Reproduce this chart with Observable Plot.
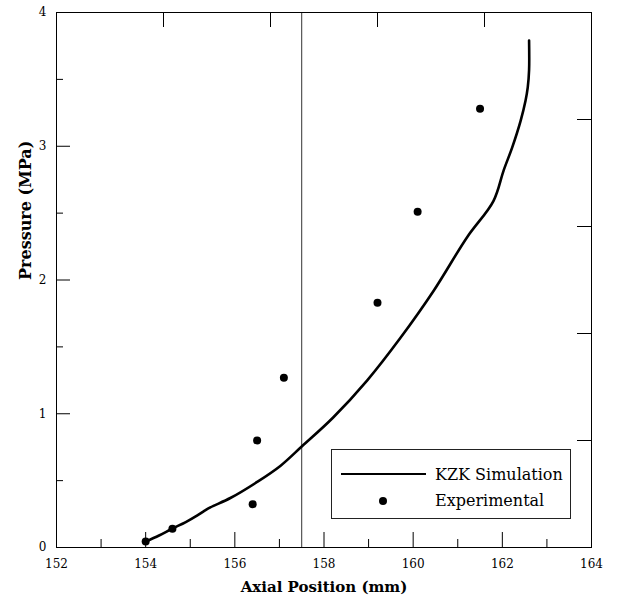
<!DOCTYPE html>
<html>
<head>
<meta charset="utf-8">
<script src="https://cdn.jsdelivr.net/npm/d3@7"></script>
<script src="https://cdn.jsdelivr.net/npm/@observablehq/plot@0.6"></script>
<style>
  html, body { margin: 0; padding: 0; background: #fff; }
  #wrap { position: relative; width: 619px; height: 596px; font-family: "DejaVu Serif", serif; }
  #legend { position: absolute; left: 331px; top: 449px; width: 240px; height: 70px; border: 1px solid #222; box-sizing: border-box; background: #fff; }
  #legend .ln { position: absolute; left: 9px; top: 22.5px; width: 85px; height: 2.6px; background: #000; }
  #legend .dt { position: absolute; left: 47px; top: 47px; width: 8px; height: 8px; border-radius: 50%; background: #000; }
  #legend .tx { position: absolute; left: 103px; font-size: 16px; line-height: 16px; color: #000; white-space: nowrap; font-family: "DejaVu Serif", serif; }
</style>
</head>
<body>
<div id="wrap"></div>
<script>
// ---- data ----
const simX = [154.0, 154.3, 154.59, 154.9, 155.16, 155.3, 155.45, 155.9, 156.5, 157.02, 157.5, 158.2, 158.97, 159.72, 160.46, 161.21, 161.8, 162.03, 162.22, 162.41, 162.52, 162.57, 162.6, 162.6];
const simY = [0.045, 0.09, 0.14, 0.19, 0.24, 0.27, 0.30, 0.37, 0.49, 0.61, 0.755, 0.97, 1.25, 1.57, 1.92, 2.32, 2.59, 2.82, 2.99, 3.19, 3.34, 3.44, 3.57, 3.79];
const expX = [154.0, 154.6, 156.4, 156.5, 157.1, 159.2, 160.1, 161.5];
const expY = [0.045, 0.14, 0.324, 0.80, 1.27, 1.83, 2.51, 3.28];
const focalLine = [157.5];
const xMajor = [152, 154, 156, 158, 160, 162, 164];
const xMinor = [153, 155, 157, 159, 161, 163];
const yMajor = [0, 1, 2, 3, 4];
const yMinor = [0.5, 1.5, 2.5, 3.5];
const topTicks = [154.4, 156.8, 159.2, 161.6];
const rightTicks = [0.8, 1.6, 2.4, 3.2];
const legendLabels = ["KZK Simulation", "Experimental"];

const sim = simX.map((x, i) => ({x, y: simY[i]}));
const exp = expX.map((x, i) => ({x, y: expY[i]}));

const W = 619, H = 596;
const mL = 56, mR = 28, mT = 12, mB = 49;
const fw = W - mL - mR, fh = H - mT - mB;
const serif = "DejaVu Serif";

const chart = Plot.plot({
  width: W, height: H,
  marginLeft: mL, marginRight: mR, marginTop: mT, marginBottom: mB,
  x: {domain: [152, 164]},
  y: {domain: [0, 4]},
  style: {fontFamily: serif, fontSize: "12px", color: "#000", background: "#fff"},
  marks: [
    Plot.ruleX(focalLine, {stroke: "#333", strokeWidth: 1}),
    Plot.frame({stroke: "#000", strokeWidth: 1}),
    Plot.tickX(xMajor, {x: d => d, insetTop: fh - 15, stroke: "#000"}),
    Plot.tickX(xMinor, {x: d => d, insetTop: fh - 8, stroke: "#000"}),
    Plot.tickX(topTicks, {x: d => d, insetBottom: fh - 15, stroke: "#000"}),
    Plot.tickY(yMajor, {y: d => d, insetRight: fw - 14, stroke: "#000"}),
    Plot.tickY(yMinor, {y: d => d, insetRight: fw - 7, stroke: "#000"}),
    Plot.tickY(rightTicks, {y: d => d, insetLeft: fw - 14, stroke: "#000"}),
    Plot.axisX({ticks: xMajor, tickSize: 0, tickPadding: 12, label: null, tickFormat: d => String(d)}),
    Plot.axisY({ticks: yMajor, tickSize: 0, tickPadding: 10, label: null, tickFormat: d => String(d)}),
    Plot.line(sim, {x: "x", y: "y", stroke: "#000", strokeWidth: 2.6, curve: "catmull-rom"}),
    Plot.dot(exp, {x: "x", y: "y", r: 4, fill: "#000", stroke: "none"}),
    Plot.text(["Axial Position (mm)"], {frameAnchor: "bottom", lineAnchor: "bottom", dy: 44, fontSize: 15, fontWeight: "bold", fill: "#000"}),
    Plot.text(["Pressure (MPa)"], {frameAnchor: "left", lineAnchor: "bottom", rotate: -90, dx: -25.5, fontSize: 16, fontWeight: "bold", fill: "#000"})
  ]
});

const wrap = document.getElementById("wrap");
wrap.appendChild(chart);

const legend = document.createElement("div");
legend.id = "legend";
legend.innerHTML = `<div class="ln"></div><div class="dt"></div>
  <div class="tx" style="top:17px">${legendLabels[0]}</div>
  <div class="tx" style="top:42.5px">${legendLabels[1]}</div>`;
wrap.appendChild(legend);
</script>
</body>
</html>
